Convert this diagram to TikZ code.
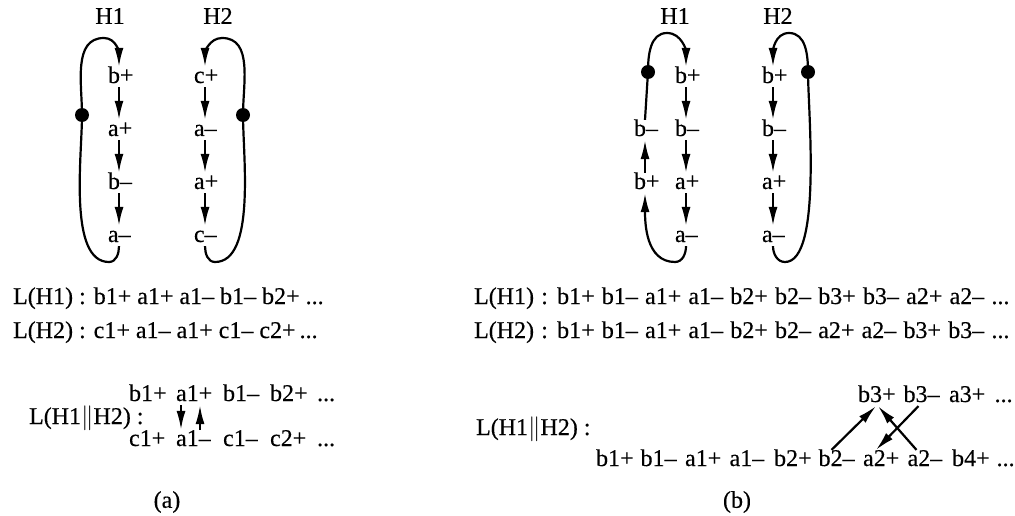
\documentclass[tikz,border=0pt]{standalone}
\usepackage{fontspec}
\setmainfont{Liberation Serif}[FakeBold=0.4]
\usetikzlibrary{arrows.meta,positioning}
\newcommand{\more}{...}
\tikzset{
  elem/.style={inner xsep=0pt,inner ysep=3pt,text width=22pt,align=left,text height=12pt,text depth=0pt},
  tok/.style={inner xsep=0pt,inner ysep=3pt,anchor=base west,text height=12pt,text depth=0pt},
  wide/.style={tok,execute at begin node={\spaceskip=7.2pt\relax}},
  flow/.style={-{Latex[length=19pt,width=9pt]}},
  junc/.style={circle,fill,inner sep=0pt,minimum size=14pt},
}

\begin{document}
\begin{tikzpicture}[x=1pt,y=1pt,line width=2.2pt,font=\fontsize{24}{28}\selectfont]
  \useasboundingbox (0,0) rectangle (1015,-516);
  % (a) two handshakes
  \node (h1a) at (110,-16) {H1};
  \node (h2a) at (218,-16) {H2};
  \foreach \t [count=\i] in {b+,a+,b–,a–}{\node[elem] (p\i) at (119,{-77-53*(\i-1)}) {\t};}
  \foreach \t [count=\i] in {c+,a–,a+,c–}{\node[elem] (q\i) at (205,{-77-53*(\i-1)}) {\t};}
  \foreach \i/\j in {1/2,2/3,3/4}{\draw[flow] (p\i) -- (p\j); \draw[flow] (q\i) -- (q\j);}
  \node[junc] (da) at (82,-115) {};
  \node[junc] (db) at (243,-115) {};
  \draw[flow] (p4.south) to[out=-90,in=0] (109,-262) to[out=180,in=-90,looseness=.7] (da.center)
    to[out=90,in=180] (104,-38) to[out=0,in=90] (p1.north);
  \draw[flow] (q4.south) to[out=-90,in=180] (215,-262) to[out=0,in=-90,looseness=.7] (db.center)
    to[out=90,in=0] (222,-38) to[out=180,in=90] (q1.north);
  % (a) sequences
  \node[tok] (la1) at (12,-304) {L(H1) : b1+ a1+ a1– b1– b2+ ...};
  \node[tok] (la2) at (12,-338) {L(H2) : c1+ a1– a1+ c1– c2+\,...};
  \node[tok] (pa) at (28,-424) {L(H1$\Vert$H2) :};
  \foreach \t [count=\i] in {b1+,a1+,b1–,b2+,\more}{\node[tok] (ua\i) at ({128+47*(\i-1)},-401) {\t};}
  \foreach \t [count=\i] in {c1+,a1–,c1–,c2+,\more}{\node[tok] (va\i) at ({128+47*(\i-1)},-446) {\t};}
  \draw[flow] ([xshift=6pt]ua2.south west) -- ([xshift=6pt]va2.north west);
  \draw[flow] ([xshift=25pt]va2.north west) -- ([xshift=25pt]ua2.south west);
  \node (capa) at (167,-502) {(a)};
  % (b) two handshakes
  \node (h1b) at (675,-16) {H1};
  \node (h2b) at (778,-16) {H2};
  \foreach \t [count=\i] in {b+,b–,a+,a–}{\node[elem] (r\i) at (686,{-77-53*(\i-1)}) {\t};}
  \foreach \t [count=\i] in {b+,b–,a+,a–}{\node[elem] (s\i) at (773,{-77-53*(\i-1)}) {\t};}
  \node[elem] (l2) at (645,-130) {b–};
  \node[elem] (l3) at (645,-183) {b+};
  \foreach \i/\j in {1/2,2/3,3/4}{\draw[flow] (r\i) -- (r\j); \draw[flow] (s\i) -- (s\j);}
  \node[junc] (dc) at (648,-72) {};
  \node[junc] (dd) at (808,-72) {};
  \draw[flow] (r4.south) to[out=-90,in=0] (675,-262) to[out=180,in=-90] (l3.south);
  \draw[flow] (l3) -- (l2);
  \draw[flow] (l2.north) -- (dc.center) to[out=90,in=180] (667,-33) to[out=0,in=90] (r1.north);
  \draw[flow] (s4.south) to[out=-90,in=180] (785,-262) to[out=0,in=-90,looseness=.5] (dd.center)
    to[out=90,in=0] (789,-33) to[out=180,in=90] (s1.north);
  % (b) sequences
  \node[wide] (lb1) at (473,-304) {L(H1) : b1+ b1– a1+ a1– b2+ b2– b3+ b3– a2+ a2– ...};
  \node[wide] (lb2) at (473,-338) {L(H2) : b1+ b1– a1+ a1– b2+ b2– a2+ a2– b3+ b3– ...};
  \node[tok] (pb) at (475,-435) {L(H1$\Vert$H2) :};
  \foreach \t [count=\i] in {b3+,b3–,a3+,\more}{\node[tok] (ub\i) at ({857+45.5*(\i-1)},-402) {\t};}
  \foreach \t [count=\i] in {b1+,b1–,a1+,a1–,b2+,b2–,a2+,a2–,b4+,\more}{\node[tok] (wb\i) at ({595+44.5*(\i-1)},-466) {\t};}
  \draw[flow] ([xshift=14pt]wb6.north west) -- ([xshift=19pt]ub1.south west);
  \draw[flow] ([xshift=16pt]ub2.south west) -- ([xshift=14pt]wb7.north west);
  \draw[flow] ([xshift=10pt]wb8.north west) -- ([xshift=21pt]ub1.south west);
  \node (capb) at (737,-502) {(b)};
\end{tikzpicture}
\end{document}
